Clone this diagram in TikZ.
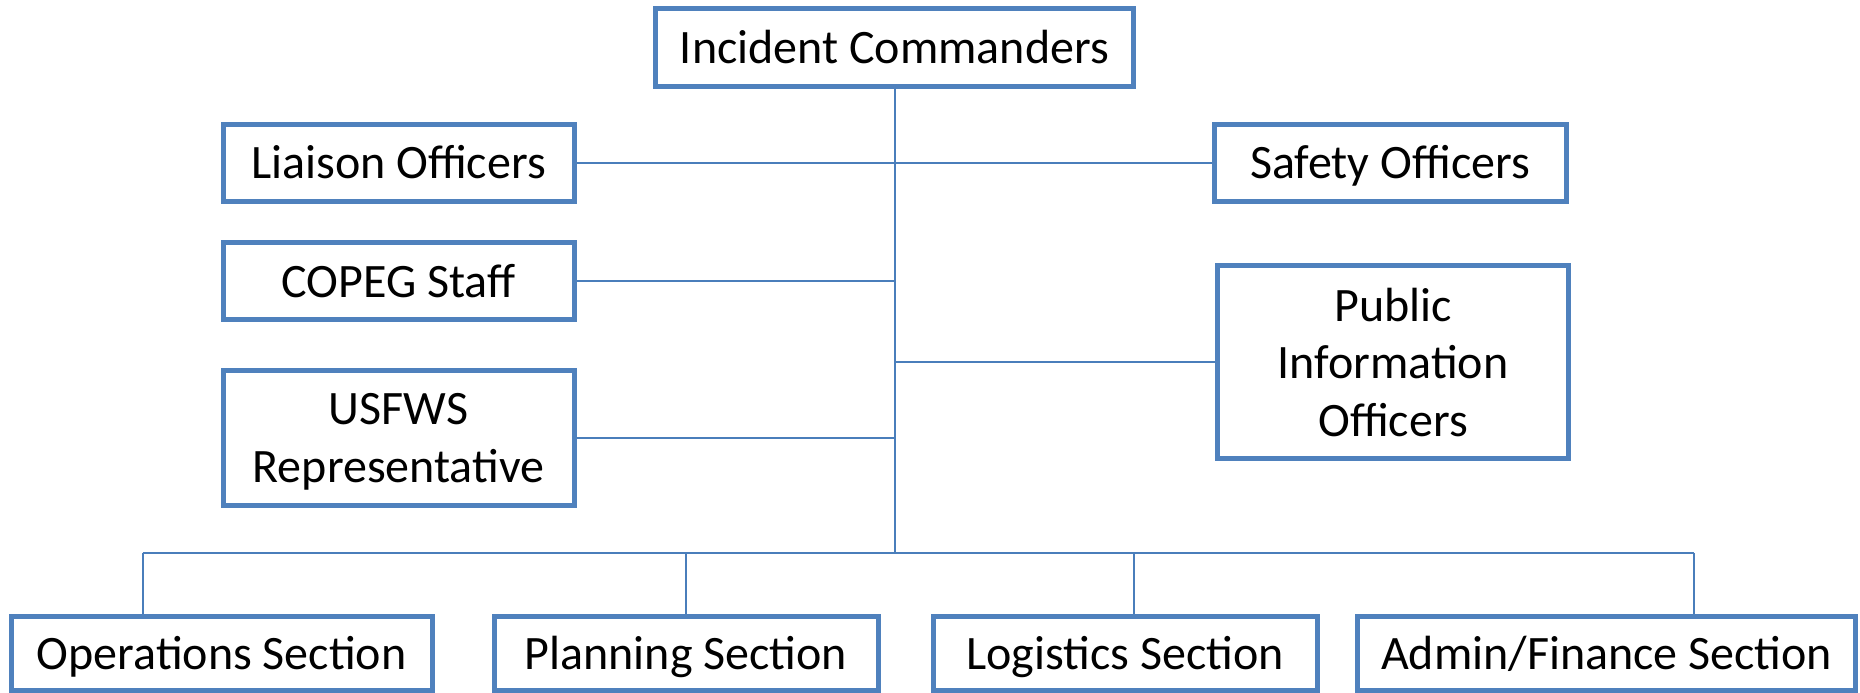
\documentclass[tikz,border=0pt]{standalone}
\usepackage{fontspec}
\setmainfont{Carlito}
\definecolor{boxblue}{HTML}{4F81BD}
\definecolor{lineblue}{HTML}{4A7EBB}
\begin{document}
\begin{tikzpicture}[x=1pt,y=-1pt,
  orgbox/.style={draw=boxblue, line width=5pt, fill=white, inner sep=0pt,
    font=\fontsize{48}{57.7}\selectfont, align=center, text height=32.5pt, text depth=0pt},
  multibox/.style={draw=boxblue, line width=5pt, fill=white, inner sep=0pt,
    font=\fontsize{48}{57.7}\selectfont, align=center},
  link/.style={draw=lineblue, line width=2pt}]
\useasboundingbox (0,0) rectangle (1860,693);
\fill[white] (0,0) rectangle (1860,693);

\node[orgbox, minimum width=478pt, minimum height=77pt] (inc) at (894.5,47.5) {Incident Commanders};
\node[orgbox, minimum width=351pt, minimum height=77pt] (lia) at (398.5,162.5) {Liaison Officers};
\node[orgbox, minimum width=351pt, minimum height=77.5pt] (cop) at (398.5,281) {COPEG Staff};
\node[multibox, minimum width=351pt, minimum height=135pt] (usf) at (398.5,438) {USFWS\\\smash{Representative}};
\node[orgbox, minimum width=352pt, minimum height=77pt] (saf) at (1390,162.5) {Safety Officers};
\node[multibox, minimum width=351.5pt, minimum height=193pt] (pub) at (1393,362.4) {Public\\Information\\Officers};
\node[orgbox, minimum width=420.7pt, minimum height=74.5pt] (ops) at (221.7,653.25) {Operations Section};
\node[orgbox, minimum width=384pt, minimum height=74.5pt] (pla) at (686,653.25) {Planning Section};
\node[orgbox, minimum width=384pt, minimum height=74.5pt] (log) at (1125,653.25) {Logistics Section};
\node[orgbox, minimum width=498pt, minimum height=74.5pt] (adm) at (1606.6,653.25) {Admin/Finance Section};

\coordinate (busc) at (inc.south |- 0,553);
\coordinate (b1) at (142.5,553);
\coordinate (b2) at (686.2,553);
\coordinate (b3) at (1134,553);
\coordinate (b4) at (1694,553);

\draw[link] (inc.south) -- (busc);
\draw[link] (lia.east) -- (saf.west);
\draw[link] (cop.east) -- (cop.east -| inc.south);
\draw[link] (usf.east) -- (usf.east -| inc.south);
\draw[link] (pub.west) -- (pub.west -| inc.south);
\draw[link] (b1) -- (b4);
\draw[link] (b1) -- (b1 |- ops.north);
\draw[link] (b2) -- (b2 |- pla.north);
\draw[link] (b3) -- (b3 |- log.north);
\draw[link] (b4) -- (b4 |- adm.north);
\end{tikzpicture}
\end{document}
